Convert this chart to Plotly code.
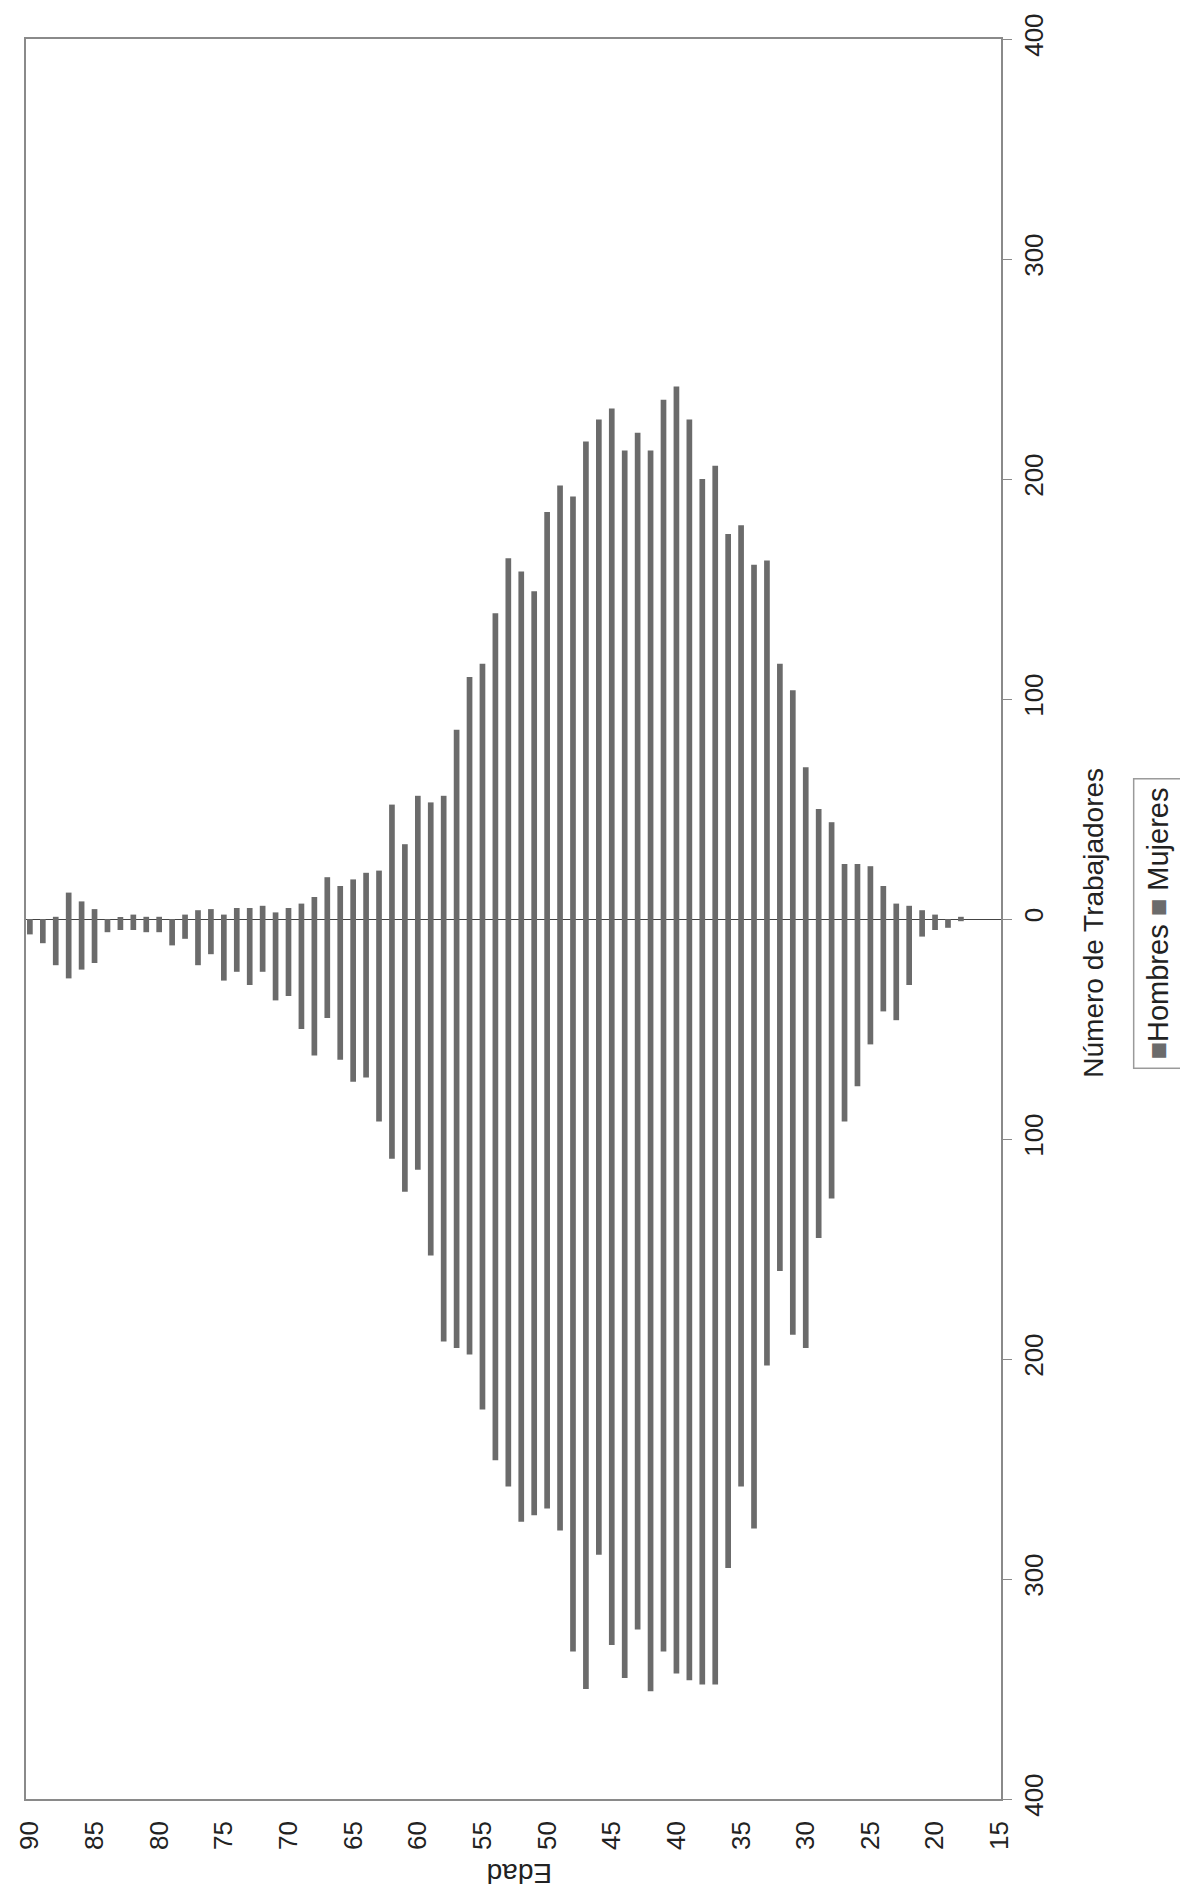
import plotly.graph_objects as go

# Ages (categories), from 90 down to 18
edades = list(range(90, 17, -1))

# Hombres (drawn downward)
hombres = [7, 11, 21, 27, 23, 20, 6, 5, 5, 6,
           6, 12, 9, 21, 16, 28, 24, 30, 24, 37,
           35, 50, 62, 45, 64, 74, 72, 92, 109, 124,
           114, 153, 192, 195, 198, 223, 246, 258, 274, 271,
           268, 278, 333, 350, 289, 330, 345, 323, 351, 333,
           343, 346, 348, 348, 295, 258, 277, 203, 160, 189,
           195, 145, 127, 92, 76, 57, 42, 46, 30, 8,
           5, 4, 1]

# Mujeres (drawn upward)
mujeres = [0, 0, 1, 12, 8, 4.5, 0, 0.5, 2, 1,
           1, 0, 2, 4, 4.5, 2, 5, 5, 6, 3,
           5, 7, 10, 19, 15, 18, 21, 22, 52, 34,
           56, 53, 56, 86, 110, 116, 139, 164, 158, 149,
           185, 197, 192, 217, 227, 232, 213, 221, 213, 236,
           242, 227, 200, 206, 175, 179, 161, 163, 116, 104,
           69, 50, 44, 25, 25, 24, 15, 7, 6, 4,
           2, 0, 1]

edad_ticks = list(range(90, 14, -5))
trab_ticks = [-400, -300, -200, -100, 0, 100, 200, 300, 400]
trab_labels = ["400", "300", "200", "100", "0", "100", "200", "300", "400"]

BAR = "#6b6b6b"
FONT = "Liberation Sans, Arial, sans-serif"

fig = go.Figure()
fig.add_trace(go.Bar(x=edades, y=[-v for v in hombres], name="Hombres",
                     marker=dict(color=BAR, line=dict(width=0)), width=0.44))
fig.add_trace(go.Bar(x=edades, y=mujeres, name="Mujeres",
                     marker=dict(color=BAR, line=dict(width=0)), width=0.44))

fig.update_layout(
    width=1188, height=1902,
    margin=dict(l=18, r=195, t=31, b=111),
    paper_bgcolor="white", plot_bgcolor="white",
    barmode="overlay", showlegend=False,
    font=dict(family=FONT, color="#222222"),
    xaxis=dict(range=[90.3, 14.9], tickvals=edad_ticks, tickangle=-90,
               tickfont=dict(size=26, color="#222"), showgrid=False, zeroline=False,
               showline=True, mirror=True, linecolor="#8a8a8a", linewidth=1.5,
               ticks="", ticklabelstandoff=10, automargin=False),
    yaxis=dict(side="right", range=[-400, 400], tickvals=trab_ticks, ticktext=trab_labels,
               tickangle=-90, tickfont=dict(size=26, color="#222"), showgrid=False,
               zeroline=True, zerolinecolor="#444444", zerolinewidth=1,
               showline=True, mirror=True, linecolor="#8a8a8a", linewidth=1.5,
               ticks="outside", ticklen=9, tickcolor="#8a8a8a", automargin=False),
    annotations=[
        dict(text="Número de Trabajadores", textangle=-90, xref="paper", yref="paper",
             x=1.094, y=0.4977, xanchor="center", yanchor="middle", showarrow=False,
             font=dict(size=28, color="#222")),
        dict(text="Edad", textangle=180, xref="paper", yref="paper",
             x=0.5067, y=-0.042, xanchor="center", yanchor="middle", showarrow=False,
             font=dict(size=28, color="#222")),
        dict(text='<span style="color:#6b6b6b">■</span>Hombres <span style="color:#6b6b6b">■</span> Mujeres',
             textangle=-90, xref="paper", yref="paper",
             x=1.161, y=0.4977, xanchor="center", yanchor="middle", showarrow=False,
             font=dict(size=29, color="#222"), bordercolor="#9a9a9a", borderwidth=1.5,
             borderpad=8, bgcolor="white"),
    ],
)

fig.write_html("out.html")
